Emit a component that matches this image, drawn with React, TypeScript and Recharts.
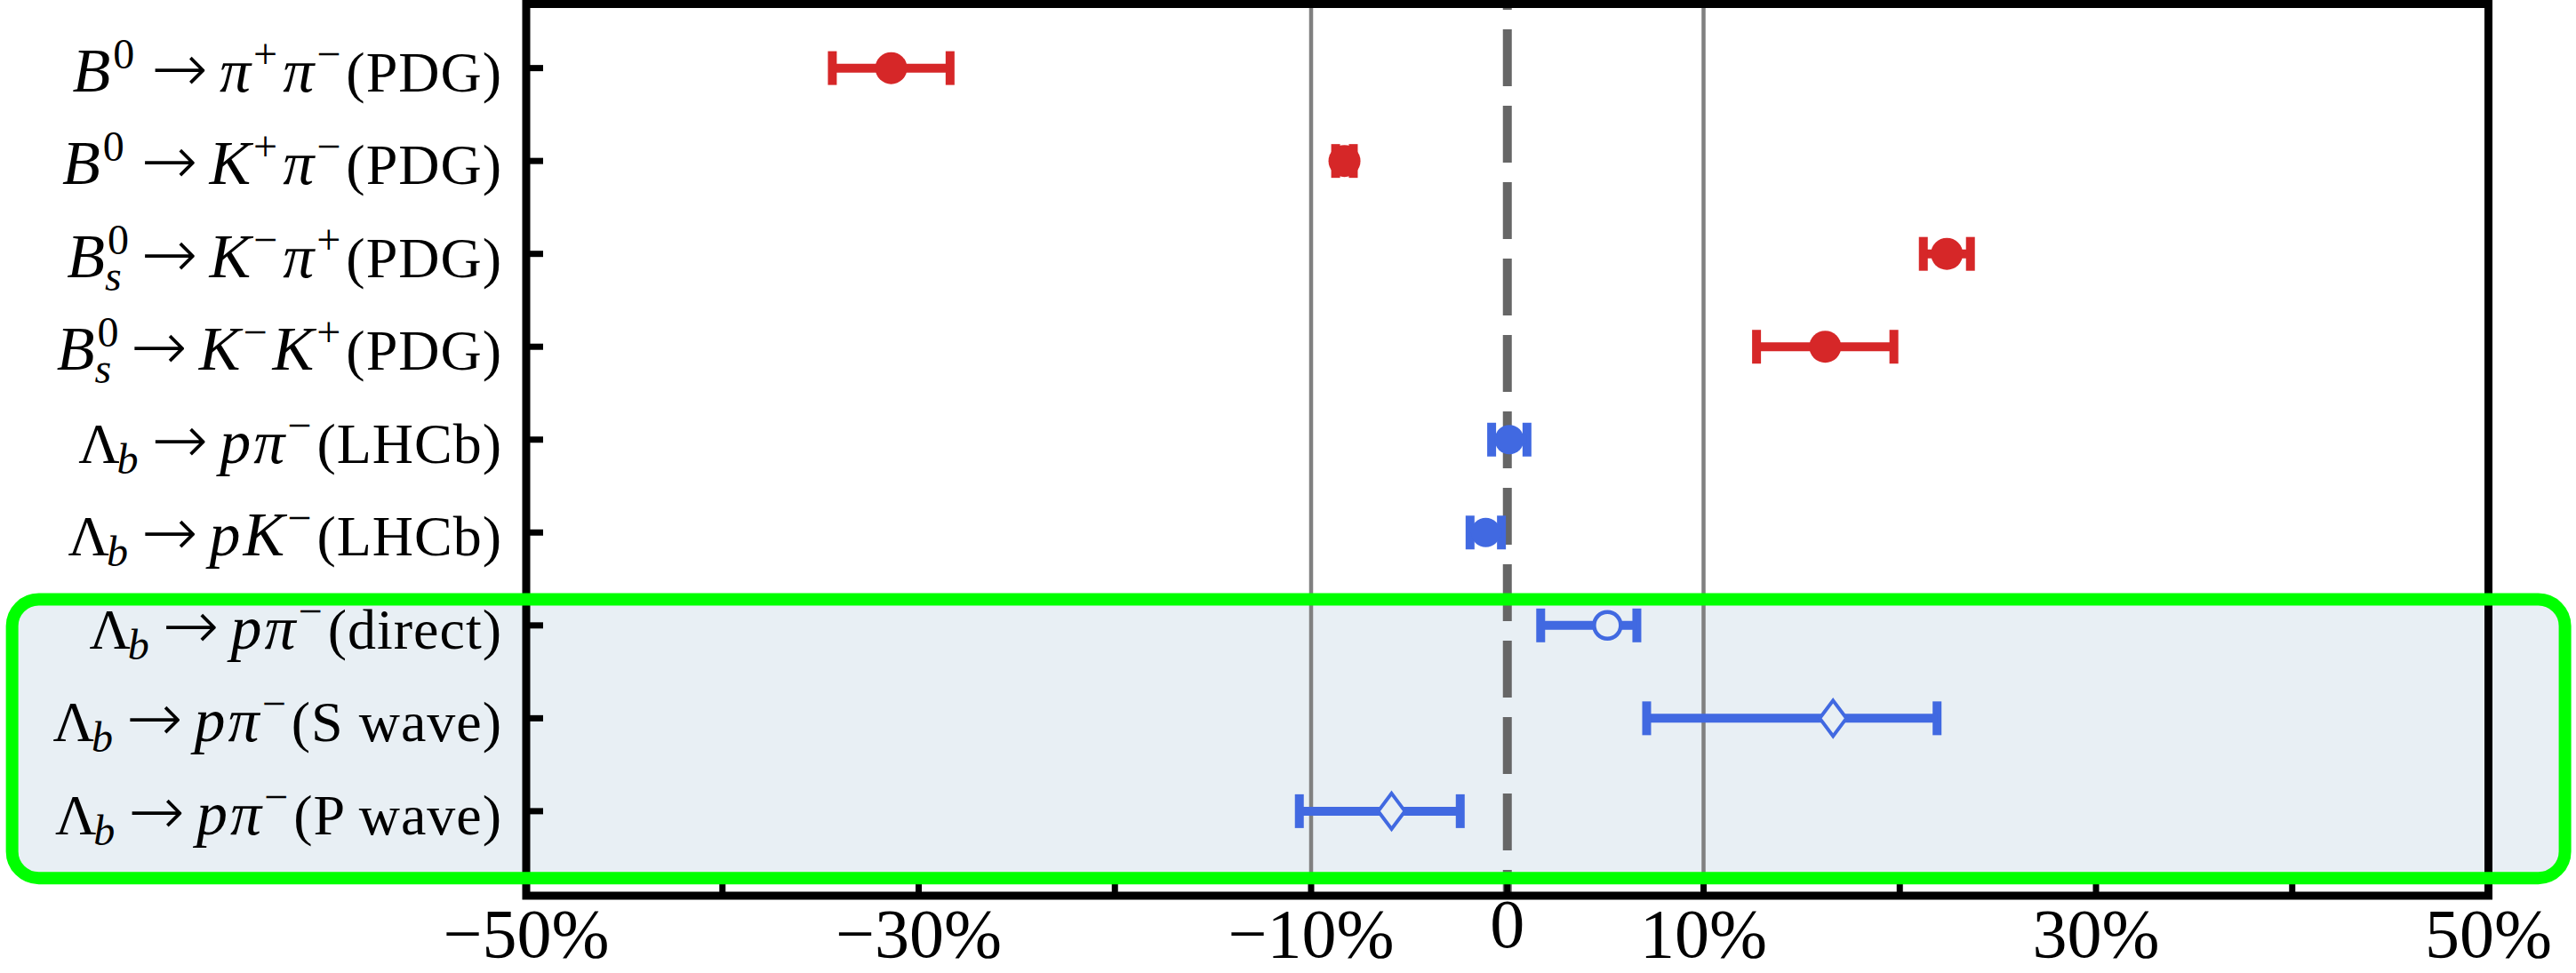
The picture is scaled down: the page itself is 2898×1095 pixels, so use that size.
import React from 'react';
import {
  ScatterChart,
  Scatter,
  XAxis,
  YAxis,
  ErrorBar,
  ReferenceLine,
  ReferenceArea,
} from 'recharts';

// ---------- data ----------
type Seg = [string, string];

const categories: Seg[][] = [
  [['B', 'i'], ['0', 'sup'], ['→', 'arrow'], ['π', 'i'], ['+', 'sup'], ['π', 'i'], ['−', 'sup'], ['(PDG)', 'r']],
  [['B', 'i'], ['0', 'sup'], ['→', 'arrow'], ['K', 'i'], ['+', 'sup'], ['π', 'i'], ['−', 'sup'], ['(PDG)', 'r']],
  [['B', 'i'], ['0|s', 'supsub'], ['→', 'arrow'], ['K', 'i'], ['−', 'sup'], ['π', 'i'], ['+', 'sup'], ['(PDG)', 'r']],
  [['B', 'i'], ['0|s', 'supsub'], ['→', 'arrow'], ['K', 'i'], ['−', 'sup'], ['K', 'i'], ['+', 'sup'], ['(PDG)', 'r']],
  [['Λ', 'r'], ['b', 'sub'], ['→', 'arrow'], ['pπ', 'i'], ['−', 'sup'], ['(LHCb)', 'r']],
  [['Λ', 'r'], ['b', 'sub'], ['→', 'arrow'], ['pK', 'i'], ['−', 'sup'], ['(LHCb)', 'r']],
  [['Λ', 'r'], ['b', 'sub'], ['→', 'arrow'], ['pπ', 'i'], ['−', 'sup'], ['(direct)', 'r']],
  [['Λ', 'r'], ['b', 'sub'], ['→', 'arrow'], ['pπ', 'i'], ['−', 'sup'], ['(S wave)', 'r']],
  [['Λ', 'r'], ['b', 'sub'], ['→', 'arrow'], ['pπ', 'i'], ['−', 'sup'], ['(P wave)', 'r']],
];

const sources = ['PDG', 'PDG', 'PDG', 'PDG', 'LHCb', 'LHCb', 'direct', 'wave', 'wave'];
const centralValues = [-31.4, -8.3, 22.4, 16.2, 0.1, -1.1, 5.1, 16.6, -5.9];
const errLow = [3.0, 0.45, 1.2, 3.5, 0.9, 0.8, 3.4, 9.5, 4.7];
const errHigh = [3.0, 0.45, 1.2, 3.5, 0.9, 0.8, 1.5, 5.3, 3.5];

const xTickValues = [-50, -40, -30, -20, -10, 0, 10, 20, 30, 40, 50];
const xLabelledValues = [-50, -30, -10, 0, 10, 30, 50];
const rowTicks = [0, 1, 2, 3, 4, 5, 6, 7, 8];

// ---------- style ----------
const RED = '#d62728';
const BLUE = '#4169e1';
const BOX_FILL = '#e8eff4';
const FONT = '"Liberation Serif", "Times New Roman", serif';
const FS = 64;
const FS_IT = 70;
const SS = 48;

const points = centralValues.map((v, i) => ({
  x: v,
  y: i,
  err: [errLow[i], errHigh[i]],
  src: sources[i],
}));
const bySrc = (s: string) => points.filter((p) => p.src === s);

function renderSegs(segs: Seg[]) {
  const out: React.ReactNode[] = [];
  let level = 0;
  let pendingDx = 0;
  segs.forEach(([t, k], j) => {
    if (k === 'i' || k === 'r') {
      out.push(
        <tspan
          key={j}
          dy={-level}
          dx={pendingDx}
          fontSize={k === 'i' ? FS_IT : FS}
          letterSpacing={k === 'i' ? 3 : 1}
          fontStyle={k === 'i' ? 'italic' : 'normal'}
        >
          {t}
        </tspan>
      );
      level = 0;
      pendingDx = 0;
    } else if (k === 'arrow') {
      out.push(
        <tspan
          key={j}
          dy={-level}
          dx={pendingDx + 13}
          fontSize={76}
          fontWeight={200}
          fontFamily={'"DejaVu Sans ExtraLight", "DejaVu Sans", sans-serif'}
        >
          {t}
        </tspan>
      );
      level = 0;
      pendingDx = 13;
    } else if (k === 'sup') {
      const target = -26;
      out.push(
        <tspan key={j} dy={target - level} dx={0} fontSize={SS}>
          {t}
        </tspan>
      );
      level = target;
      pendingDx = 6;
    } else if (k === 'sub') {
      const target = 12;
      out.push(
        <tspan key={j} dy={target - level} dx={-4} fontSize={SS} fontStyle="italic">
          {t}
        </tspan>
      );
      level = target;
      pendingDx = 2;
    } else if (k === 'supsub') {
      const [a, b] = t.split('|');
      const up = -26;
      const down = 15;
      out.push(
        <tspan key={j + 'a'} dy={up - level} dx={0} fontSize={SS}>
          {a}
        </tspan>
      );
      out.push(
        <tspan key={j + 'b'} dx={-27} dy={down - up} fontSize={SS} fontStyle="italic">
          {b}
        </tspan>
      );
      level = down;
      pendingDx = 9;
    }
  });
  return out;
}

const YTick = (props: any) => {
  const { x, y, payload } = props;
  const segs = categories[payload.value];
  return (
    <g>
      <line x1={x} x2={x + 19} y1={y} y2={y} stroke="#000" strokeWidth={7} />
      {segs && (
        <text x={x - 27} y={y + 26} textAnchor="end" fontFamily={FONT} fill="#000">
          {renderSegs(segs)}
        </text>
      )}
    </g>
  );
};

const XTick = (props: any) => {
  const { x, y, payload } = props;
  const v = payload.value as number;
  const show = xLabelledValues.includes(v);
  const label = v === 0 ? '0' : (v < 0 ? '−' : '') + Math.abs(v) + '%';
  return (
    <g>
      <line x1={x} x2={x} y1={y} y2={y - 13} stroke="#000" strokeWidth={7} />
      {show && (
        <text
          x={x}
          y={y + (v === 0 ? 58 : 69)}
          textAnchor="middle"
          fontFamily={FONT}
          fontSize={78}
          fill="#000"
        >
          {label}
        </text>
      )}
    </g>
  );
};

const filledCircle = (color: string, r: number) => (p: any) =>
  <circle cx={p.cx} cy={p.cy} r={r} fill={color} />;

const openCircle = (p: any) => (
  <circle cx={p.cx} cy={p.cy} r={15} fill={BOX_FILL} stroke={BLUE} strokeWidth={4.5} />
);

const openDiamond = (p: any) => (
  <polygon
    points={`${p.cx},${p.cy - 20} ${p.cx + 15},${p.cy} ${p.cx},${p.cy + 20} ${p.cx - 15},${p.cy}`}
    fill={BOX_FILL}
    stroke={BLUE}
    strokeWidth={4}
  />
);

const roundedBox = (fill: string, stroke: string, sw: number) => (p: any) =>
  <rect x={p.x} y={p.y} width={p.width} height={p.height} rx={30} ry={30} fill={fill} stroke={stroke} strokeWidth={sw} />;

export default function App() {
  return (
    <div style={{ position: 'absolute', left: 0, top: 0, width: 2898, height: 1095, background: '#fff' }}>
      <ScatterChart width={2898} height={1095} margin={{ top: 4.5, right: 98.5, bottom: 0, left: 0 }}>
        <XAxis
          type="number"
          dataKey="x"
          domain={[-50, 50]}
          allowDataOverflow
          ticks={xTickValues}
          interval={0}
          height={87}
          axisLine={false}
          tickLine={false}
          tickSize={0}
          tickMargin={0}
          tick={<XTick />}
        />
        <YAxis
          type="number"
          dataKey="y"
          domain={[-0.69, 8.91]}
          allowDataOverflow
          reversed
          ticks={rowTicks}
          interval={0}
          width={592}
          axisLine={false}
          tickLine={false}
          tickSize={0}
          tickMargin={0}
          tick={<YTick />}
        />

        {/* shaded highlight box (fill) */}
        <ReferenceArea
          x1={-76.2}
          x2={53.9}
          y1={5.72}
          y2={8.72}
          ifOverflow="visible"
          zIndex={50}
          shape={roundedBox(BOX_FILL, 'none', 0)}
        />

        <ReferenceLine x={-10} stroke="#808080" strokeWidth={4.5} zIndex={60} ifOverflow="visible" />
        <ReferenceLine x={10} stroke="#808080" strokeWidth={4.5} zIndex={60} ifOverflow="visible" />
        <ReferenceLine
          segment={[
            { x: 0, y: -0.69 },
            { x: 0, y: 8.91 },
          ]}
          stroke="#666666"
          strokeWidth={10}
          strokeDasharray="64 22"
          strokeDashoffset={57.5}
          zIndex={70}
          ifOverflow="visible"
        />

        {/* frame / spines */}
        <ReferenceArea
          x1={-50}
          x2={50}
          y1={-0.69}
          y2={8.91}
          ifOverflow="visible"
          fill="none"
          fillOpacity={0}
          stroke="#000"
          strokeWidth={9}
          zIndex={550}
        />

        <Scatter data={bySrc('PDG')} isAnimationActive={false} shape={filledCircle(RED, 18)} zIndex={600}>
          <ErrorBar dataKey="err" direction="x" width={19} strokeWidth={10} stroke={RED} isAnimationActive={false} />
        </Scatter>
        <Scatter data={bySrc('LHCb')} isAnimationActive={false} shape={filledCircle(BLUE, 16.5)} zIndex={600}>
          <ErrorBar dataKey="err" direction="x" width={19} strokeWidth={10} stroke={BLUE} isAnimationActive={false} />
        </Scatter>
        <Scatter data={bySrc('direct')} isAnimationActive={false} shape={openCircle} zIndex={600}>
          <ErrorBar dataKey="err" direction="x" width={19} strokeWidth={10} stroke={BLUE} isAnimationActive={false} />
        </Scatter>
        <Scatter data={bySrc('wave')} isAnimationActive={false} shape={openDiamond} zIndex={600}>
          <ErrorBar dataKey="err" direction="x" width={19} strokeWidth={10} stroke={BLUE} isAnimationActive={false} />
        </Scatter>

        {/* highlight box outline on top */}
        <ReferenceArea
          x1={-76.2}
          x2={53.9}
          y1={5.72}
          y2={8.72}
          ifOverflow="visible"
          zIndex={2100}
          shape={roundedBox('none', '#00ff00', 14)}
        />
      </ScatterChart>
    </div>
  );
}
